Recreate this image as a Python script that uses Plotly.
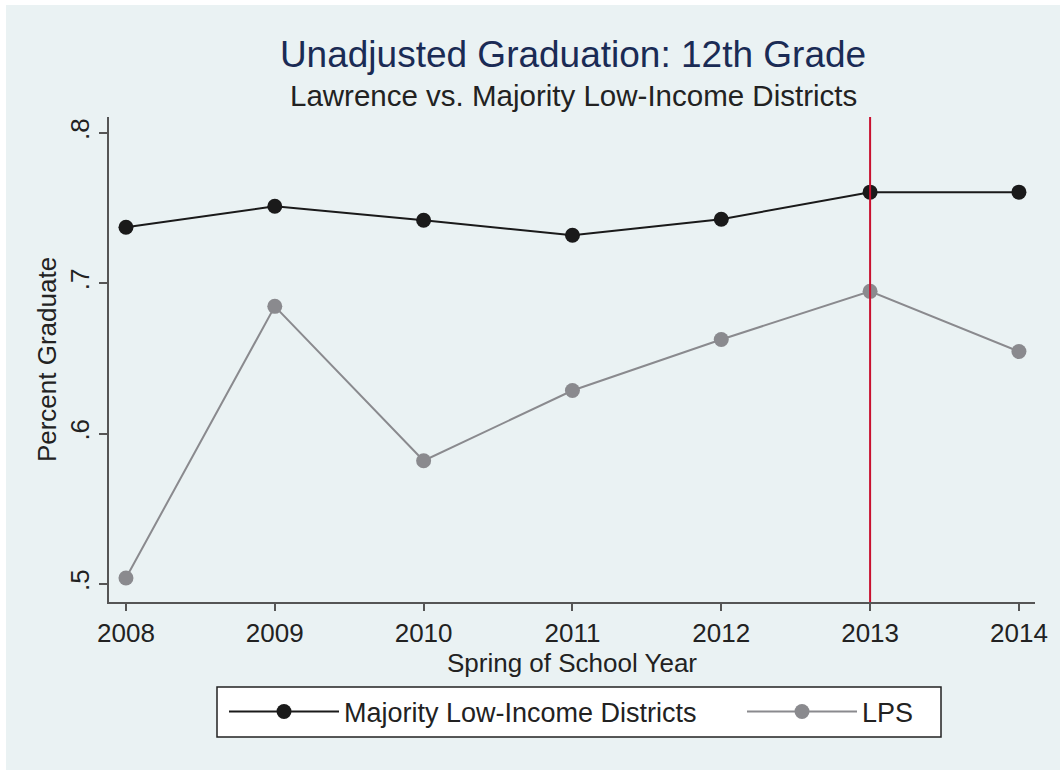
import plotly.graph_objects as go

years = [2008, 2009, 2010, 2011, 2012, 2013, 2014]
majority = [0.7373, 0.7513, 0.7420, 0.7320, 0.7427, 0.7607, 0.7607]
lps = [0.5040, 0.6847, 0.5820, 0.6287, 0.6627, 0.6947, 0.6547]
y_ticks = [0.5, 0.6, 0.7, 0.8]
y_tick_labels = [".5", ".6", ".7", ".8"]
ref_year = 2013

W, H = 1063, 772
L, R, T, B = 109, 1035, 117, 602
ml, mr, mt, mb = L, W - R, T, H - B
pw, ph = R - L, B - T

def px(x):
    return (x - L) / pw

def py(y):
    return (B - y) / ph

bg = "#EAF2F3"
font = "Liberation Sans, Arial, Helvetica, sans-serif"
fs = 26
txt = "#222222"

fig = go.Figure()
fig.add_trace(go.Scatter(
    x=years, y=majority, mode="lines+markers", name="Majority Low-Income Districts",
    line=dict(color="#1a1a1a", width=2), marker=dict(size=15, color="#1a1a1a"),
    legend="legend"))
fig.add_trace(go.Scatter(
    x=years, y=lps, mode="lines+markers", name="LPS",
    line=dict(color="#8a8a8e", width=2), marker=dict(size=15, color="#8a8a8e"),
    legend="legend2"))

fig.add_vline(x=ref_year, line=dict(color="#C8102E", width=2))

shapes = [
    dict(type="rect", xref="paper", yref="paper", x0=px(0), x1=px(W), y0=py(H), y1=py(0),
         line=dict(width=0), fillcolor="white", layer="below"),
    dict(type="rect", xref="paper", yref="paper", x0=px(6), x1=px(1060), y0=py(770), y1=py(5),
         line=dict(width=0), fillcolor=bg, layer="below"),
    # legend frame
    dict(type="rect", xref="paper", yref="paper", x0=px(217), x1=px(941), y0=py(737), y1=py(687),
         line=dict(width=1.5, color="#222222"), fillcolor="white", layer="above"),
]
for s in shapes:
    fig.add_shape(**s)

leg_common = dict(orientation="h", yanchor="middle", xanchor="left",
                  bgcolor="rgba(0,0,0,0)", borderwidth=0,
                  font=dict(size=27, color=txt, family=font), itemwidth=110)

fig.update_layout(
    width=W, height=H,
    margin=dict(l=ml, r=mr, t=mt, b=mb),
    paper_bgcolor=bg, plot_bgcolor="white",
    font=dict(family=font, size=fs, color=txt),
    title=dict(text="Unadjusted Graduation: 12th Grade", x=573 / W, xanchor="center",
               y=1 - 54 / H, yanchor="middle",
               font=dict(size=37, color="#1A2B55", family=font)),
    annotations=[dict(text="Lawrence vs. Majority Low-Income Districts", xref="paper", yref="paper",
                      x=px(573), y=py(96), xanchor="center", yanchor="middle", showarrow=False,
                      font=dict(size=29.5, color=txt, family=font))],
    showlegend=True,
    legend=dict(x=px(224), y=py(712), **leg_common),
    legend2=dict(x=px(742), y=py(712), **leg_common),
    xaxis=dict(range=[2007.886, 2014.108], tickvals=years, ticktext=[str(y) for y in years],
               showgrid=False, zeroline=False, showline=True, linecolor="#555555", linewidth=2,
               ticks="outside", ticklen=7, tickwidth=1.5, tickcolor="#555555",
               tickfont=dict(size=fs, color=txt),
               title=dict(text="Spring of School Year", font=dict(size=fs, color=txt), standoff=0)),
    yaxis=dict(range=[0.488, 0.8107], tickvals=y_ticks, ticktext=y_tick_labels, tickangle=-90,
               showgrid=True, gridcolor=bg, gridwidth=2, zeroline=False,
               showline=True, linecolor="#555555", linewidth=2,
               ticks="outside", ticklen=8, tickwidth=1.5, tickcolor="#555555",
               tickfont=dict(size=fs, color=txt),
               title=dict(text="Percent Graduate", font=dict(size=fs, color=txt), standoff=0)),
)

fig.write_html("out.html", config={"displayModeBar": False},
               post_script="document.body.style.margin='0';")
